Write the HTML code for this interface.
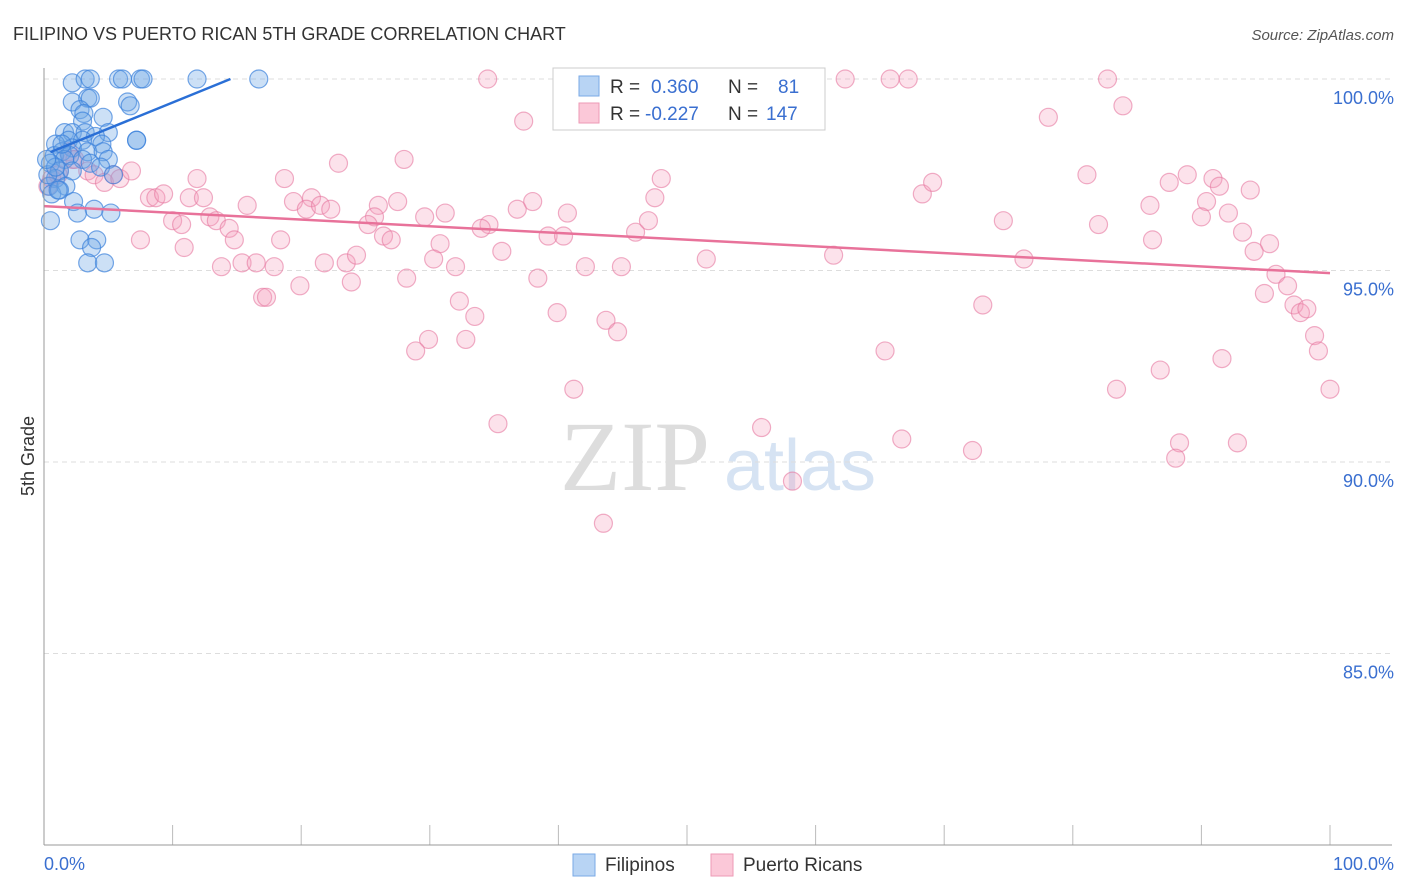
<!DOCTYPE html>
<html><head><meta charset="utf-8"><style>
body{margin:0;background:#fff;font-family:"Liberation Sans",sans-serif;}
svg{display:block}
</style></head><body>
<svg id="chart" width="1406" height="892">
<text x="13" y="40" font-size="18" fill="#333">FILIPINO VS PUERTO RICAN 5TH GRADE CORRELATION CHART</text>
<text x="1394" y="40" font-size="15" fill="#555" font-style="italic" text-anchor="end">Source: ZipAtlas.com</text>
<text x="34" y="456" font-size="18" fill="#333" transform="rotate(-90 34 456)" text-anchor="middle">5th Grade</text>
<g><text x="635" y="490" font-size="100" fill="#ddd" font-family="Liberation Serif,serif" text-anchor="middle">ZIP</text><text x="800" y="490" font-size="72" fill="#d6e3f3" text-anchor="middle">atlas</text></g>
<g id="grid"></g><g id="pts"></g><g id="lines"></g>
<line x1="44" y1="68" x2="44" y2="845" stroke="#999"/>
<line x1="44" y1="845" x2="1392" y2="845" stroke="#999"/>
<text x="44" y="870" font-size="18" fill="#3a6fd0">0.0%</text>
<text x="1394" y="870" font-size="18" fill="#3a6fd0" text-anchor="end">100.0%</text>
<g>
<rect x="553" y="68" width="272" height="62" fill="#fff" stroke="#ccc"/>
<rect x="579" y="76" width="20" height="20" fill="#b8d4f4" stroke="#7aaae6"/>
<rect x="579" y="103" width="20" height="20" fill="#fbc8d8" stroke="#ee9ab6"/>
<text x="610" y="93" font-size="19" fill="#333">R = <tspan fill="#3a6fd0" x="651">0.360</tspan><tspan x="728">N =</tspan><tspan fill="#3a6fd0" x="778">81</tspan></text>
<text x="610" y="120" font-size="19" fill="#333">R = <tspan fill="#3a6fd0" x="645">-0.227</tspan><tspan x="728">N =</tspan><tspan fill="#3a6fd0" x="766">147</tspan></text>
</g>
<g>
<rect x="573" y="854" width="22" height="22" fill="#b8d4f4" stroke="#7aaae6"/>
<text x="605" y="871" font-size="19" fill="#333">Filipinos</text>
<rect x="711" y="854" width="22" height="22" fill="#fbc8d8" stroke="#ee9ab6"/>
<text x="743" y="871" font-size="19" fill="#333">Puerto Ricans</text>
</g>
</svg>
<script>
const yTicks=[100,95,90,85];
const yTickLabels=["100.0%","95.0%","90.0%","85.0%"];
const xTicks=[0,10,20,30,40,50,60,70,80,90,100];
const blueX=[2.2,3.2,3.6,5.8,6.1,7.5,7.7,11.9,16.7,2.2,3.4,3.6,6.5,6.7,2.8,3.1,4.6,3.0,1.6,2.2,3.2,5.0,4.0,1.9,3.0,7.2,7.2,0.9,2.2,4.5,1.4,3.4,0.8,2.0,4.6,1.6,3.0,5.0,0.5,1.2,3.6,4.4,0.9,2.2,5.4,0.4,1.7,0.6,1.2,2.3,1.1,0.5,3.9,5.2,2.6,2.8,4.1,3.7,3.4,4.7,0.3,0.9,0.2,1.4];
const blueY=[99.9,100,100,100,100,100,100,100,100,99.4,99.5,99.5,99.4,99.3,99.2,99.1,99.0,98.9,98.6,98.6,98.6,98.6,98.5,98.4,98.4,98.4,98.4,98.3,98.2,98.3,98.1,98.1,98.0,98.0,98.1,97.9,97.9,97.9,97.8,97.6,97.8,97.7,97.4,97.6,97.5,97.2,97.2,97.0,97.1,96.8,97.1,96.3,96.6,96.5,96.5,95.8,95.8,95.6,95.2,95.2,97.5,97.7,97.9,98.3];
const pinkX=[34.5,49.2,49.5,59.7,60.0,62.3,65.8,67.2,82.7,83.9,78.1,37.3,22.9,28.0,81.1,87.5,88.9,90.9,91.4,93.8,68.3,69.1,48.0,47.5,18.7,11.9,8.2,8.7,9.3,11.3,12.4,15.8,19.4,20.8,20.4,21.5,22.3,26.0,27.5,25.7,25.2,29.6,31.2,34.6,34.0,36.8,38.0,40.7,39.2,40.4,46.0,47.0,74.6,82.0,86.0,90.4,90.0,92.1,93.2,95.3,86.2,94.1,10.0,10.7,12.9,13.4,14.4,14.8,7.5,10.9,18.4,26.4,27.0,30.8,35.6,30.3,32.0,38.4,42.1,44.9,51.5,61.4,76.2,13.8,15.4,16.5,17.9,21.8,23.5,24.3,23.9,28.2,19.9,17.0,17.3,32.3,33.5,39.9,43.7,44.6,73.0,95.8,96.7,94.9,97.2,97.7,98.2,98.8,99.1,100,29.9,28.9,32.8,65.4,86.8,91.6,83.4,41.2,35.3,55.8,66.7,72.2,88.3,92.8,88.0,58.2,43.5,1.2,2.2,3.4,3.9,4.7,5.4,5.9,6.8,1.9,2.4,0.6,0.3,1.1];
const pinkY=[100,100,99.9,100,100,100,100,100,100,99.3,99.0,98.9,97.8,97.9,97.5,97.3,97.5,97.4,97.2,97.1,97.0,97.3,97.4,96.9,97.4,97.4,96.9,96.9,97.0,96.9,96.9,96.7,96.8,96.9,96.6,96.7,96.6,96.7,96.8,96.4,96.2,96.4,96.5,96.2,96.1,96.6,96.8,96.5,95.9,95.9,96.0,96.3,96.3,96.2,96.7,96.8,96.4,96.5,96.0,95.7,95.8,95.5,96.3,96.2,96.4,96.3,96.1,95.8,95.8,95.6,95.8,95.9,95.8,95.7,95.5,95.3,95.1,94.8,95.1,95.1,95.3,95.4,95.3,95.1,95.2,95.2,95.1,95.2,95.2,95.4,94.7,94.8,94.6,94.3,94.3,94.2,93.8,93.9,93.7,93.4,94.1,94.9,94.6,94.4,94.1,93.9,94.0,93.3,92.9,91.9,93.2,92.9,93.2,92.9,92.4,92.7,91.9,91.9,91.0,90.9,90.6,90.3,90.5,90.5,90.1,89.5,88.4,97.6,97.9,97.6,97.5,97.3,97.5,97.4,97.6,98.1,97.9,97.4,97.2,97.5];
const blueLine=[[0.5,98.09],[14.5,100]];
const pinkLine=[[0,96.68],[100,94.93]];
const NS="http://www.w3.org/2000/svg";
const xs=v=>44+v*12.86, ys=v=>79+(100-v)*38.3;
function mk(tag,attrs,parent){const e=document.createElementNS(NS,tag);for(const k in attrs)e.setAttribute(k,attrs[k]);parent.appendChild(e);return e;}
const grid=document.getElementById('grid');
yTicks.forEach((t,i)=>{
 const l=mk('line',{x1:44,x2:1392,y1:ys(t),y2:ys(t),stroke:'#ddd','stroke-dasharray':'5,4'},grid);
 
 
 const tx=mk('text',{x:1394,y:ys(t)+25,'font-size':18,fill:'#3a6fd0','text-anchor':'end'},grid);
 tx.textContent=yTickLabels[i];
 
 
});
xTicks.forEach(t=>{
 const l=mk('line',{x1:xs(t),x2:xs(t),y1:825,y2:845,stroke:'#bbb'},grid);
 
 
});
const pts=document.getElementById('pts');
pinkX.forEach((x,i)=>{
 const c=mk('circle',{cx:xs(x),cy:ys(pinkY[i]),r:9,fill:'rgba(244,160,190,0.3)',stroke:'rgba(230,120,160,0.6)','stroke-width':1.2},pts);
 
 
});
blueX.forEach((x,i)=>{
 const c=mk('circle',{cx:xs(x),cy:ys(blueY[i]),r:9,fill:'rgba(110,165,230,0.35)',stroke:'rgba(60,130,220,0.7)','stroke-width':1.2},pts);
 
 
});
const lines=document.getElementById('lines');
const bl=mk('line',{x1:xs(blueLine[0][0]),y1:ys(blueLine[0][1]),x2:xs(blueLine[1][0]),y2:ys(blueLine[1][1]),stroke:'#2a6fd6','stroke-width':2.5},lines);


const pl=mk('line',{x1:xs(pinkLine[0][0]),y1:ys(pinkLine[0][1]),x2:xs(pinkLine[1][0]),y2:ys(pinkLine[1][1]),stroke:'#e8729a','stroke-width':2.5},lines);


</script>
</body></html>
